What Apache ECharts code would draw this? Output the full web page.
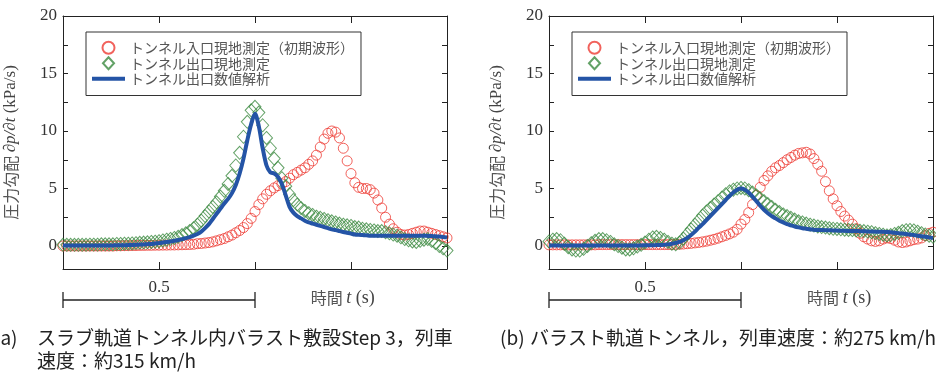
<!DOCTYPE html>
<html>
<head>
<meta charset="utf-8">
<script src="https://cdn.jsdelivr.net/npm/echarts@6/dist/echarts.min.js"></script>
<style>
  html, body { margin: 0; padding: 0; background: #fff; }
  #chart { width: 936px; height: 372px; }
</style>
</head>
<body>
<div id="chart"></div>
<script>
// sample times (s), shared by all series
const time = [
  0.00, 0.01, 0.02, 0.03, 0.04, 0.05, 0.06, 0.07, 0.08, 0.09,
  0.10, 0.11, 0.12, 0.13, 0.14, 0.15, 0.16, 0.17, 0.18, 0.19,
  0.20, 0.21, 0.22, 0.23, 0.24, 0.25, 0.26, 0.27, 0.28, 0.29,
  0.30, 0.31, 0.32, 0.33, 0.34, 0.35, 0.36, 0.37, 0.38, 0.39,
  0.40, 0.41, 0.42, 0.43, 0.44, 0.45, 0.46, 0.47, 0.48, 0.49,
  0.50, 0.51, 0.52, 0.53, 0.54, 0.55, 0.56, 0.57, 0.58, 0.59,
  0.60, 0.61, 0.62, 0.63, 0.64, 0.65, 0.66, 0.67, 0.68, 0.69,
  0.70, 0.71, 0.72, 0.73, 0.74, 0.75, 0.76, 0.77, 0.78, 0.79,
  0.80, 0.81, 0.82, 0.83, 0.84, 0.85, 0.86, 0.87, 0.88, 0.89,
  0.90, 0.91, 0.92, 0.93, 0.94, 0.95, 0.96, 0.97, 0.98, 0.99, 1.00
];

// (a) slab track, Step 3, ~315 km/h
const entranceA = [
  0, 0, 0, 0, 0, 0, 0, 0, 0, 0,
  0, 0, 0, 0, 0.02, 0.02, 0.03, 0.03, 0.04, 0.04,
  0.05, 0.05, 0.06, 0.06, 0.07, 0.07, 0.08, 0.08, 0.09, 0.09,
  0.1, 0.11, 0.12, 0.13, 0.15, 0.2, 0.22, 0.26, 0.3, 0.36,
  0.45, 0.55, 0.65, 0.8, 0.95, 1.15, 1.35, 1.6, 1.95, 2.4,
  3.0, 3.6, 4.1, 4.5, 4.8, 5.05, 5.25, 5.4, 5.6, 5.9,
  6.2, 6.4, 6.6, 6.8, 7.1, 7.4, 7.9, 8.6, 9.3, 9.8,
  10.0, 9.9, 9.4, 8.5, 7.4, 6.3, 5.5, 5.1, 5.0, 5.0,
  4.9, 4.6, 4.0, 3.3, 2.5, 1.9, 1.5, 1.2, 1.0, 0.95,
  1.0, 1.1, 1.2, 1.3, 1.3, 1.2, 1.1, 1.0, 0.9, 0.8, 0.7
];
const exitMeasA = [
  0.1, 0.1, 0.1, 0.1, 0.1, 0.1, 0.1, 0.12, 0.12, 0.12,
  0.15, 0.15, 0.15, 0.15, 0.18, 0.18, 0.2, 0.2, 0.22, 0.25,
  0.28, 0.3, 0.32, 0.35, 0.38, 0.42, 0.48, 0.55, 0.62, 0.7,
  0.8, 0.95, 1.1, 1.3, 1.55, 1.85, 2.2, 2.6, 3.0, 3.4,
  3.8, 4.3, 4.8, 5.4, 6.1, 7.0, 8.1, 9.5, 10.8, 11.8,
  12.1, 11.6, 10.5, 9.4, 8.5, 7.6, 6.8, 5.9, 5.2, 4.5,
  4.0, 3.6, 3.3, 3.05, 2.85, 2.7, 2.55, 2.45, 2.35, 2.25,
  2.15, 2.05, 1.95, 1.85, 1.8, 1.75, 1.65, 1.6, 1.5, 1.45,
  1.4, 1.35, 1.3, 1.3, 1.2, 1.1, 1.0, 0.9, 0.75, 0.6,
  0.5, 0.4, 0.35, 0.45, 0.55, 0.6, 0.45, 0.25, 0.0, -0.2, -0.4
];
const exitCalcA = [
  0.05, 0.05, 0.05, 0.05, 0.05, 0.05, 0.05, 0.05, 0.05, 0.05,
  0.05, 0.05, 0.05, 0.05, 0.06, 0.06, 0.07, 0.08, 0.09, 0.1,
  0.12, 0.14, 0.16, 0.18, 0.22, 0.25, 0.3, 0.35, 0.4, 0.45,
  0.52, 0.6, 0.68, 0.78, 0.9, 1.05, 1.25, 1.55, 1.9, 2.35,
  2.8, 3.25, 3.7, 4.1, 4.6, 5.3, 6.3, 7.6, 9.2, 10.6,
  11.5, 10.4, 8.5, 7.0, 6.4, 6.3, 6.0, 5.4, 4.4, 3.4,
  2.9, 2.6, 2.4, 2.2, 2.05, 1.95, 1.85, 1.75, 1.65, 1.55,
  1.45, 1.38, 1.3, 1.22, 1.15, 1.08, 1.0, 0.97, 0.95, 0.93,
  0.9, 0.9, 0.9, 0.9, 0.9, 0.9, 0.9, 0.9, 0.9, 0.9,
  0.9, 0.9, 0.9, 0.9, 0.9, 0.88, 0.86, 0.84, 0.82, 0.78, 0.75
];

// (b) ballast track, ~275 km/h
const entranceB = [
  0.1, 0.1, 0.1, 0.1, 0.1, 0.1, 0.1, 0.1, 0.1, 0.1,
  0.1, 0.1, 0.1, 0.12, 0.12, 0.12, 0.12, 0.12, 0.12, 0.12,
  0.12, 0.12, 0.12, 0.12, 0.12, 0.12, 0.12, 0.12, 0.12, 0.12,
  0.12, 0.12, 0.13, 0.14, 0.15, 0.17, 0.2, 0.23, 0.27, 0.31,
  0.36, 0.42, 0.5, 0.58, 0.68, 0.8, 0.92, 1.05, 1.2, 1.45,
  1.9, 2.3, 2.9, 3.6, 4.4, 5.1, 5.7, 6.1, 6.5, 6.8,
  7.0, 7.25, 7.5, 7.7, 7.9, 8.05, 8.1, 8.15, 8.0, 7.6,
  7.1, 6.5, 5.6, 4.8, 4.1, 3.5, 3.0, 2.6, 2.25, 1.9,
  1.5, 1.1, 0.8, 0.6, 0.45, 0.4, 0.45, 0.6, 0.7, 0.65,
  0.5, 0.35, 0.3, 0.35, 0.45, 0.55, 0.6, 0.7, 0.9, 1.1, 1.2
];
const exitMeasB = [
  0.4, 0.55, 0.6, 0.5, 0.2, -0.1, -0.3, -0.4, -0.4, -0.25,
  0.0, 0.25, 0.45, 0.6, 0.6, 0.5, 0.35, 0.15, 0.0, -0.15,
  -0.3, -0.3, -0.2, -0.05, 0.1, 0.3, 0.55, 0.75, 0.8, 0.7,
  0.55, 0.35, 0.2, 0.15, 0.3, 0.65, 1.05, 1.45, 1.85, 2.25,
  2.65, 3.0, 3.3, 3.6, 3.9, 4.2, 4.5, 4.75, 4.9, 5.0,
  5.05, 5.0, 4.85, 4.65, 4.4, 4.15, 3.9, 3.65, 3.4, 3.15,
  2.95, 2.75, 2.6, 2.45, 2.3, 2.15, 2.05, 1.95, 1.85, 1.78,
  1.7, 1.65, 1.6, 1.55, 1.5, 1.48, 1.45, 1.42, 1.4, 1.38,
  1.35, 1.32, 1.3, 1.25, 1.2, 1.12, 1.05, 0.98, 0.92, 0.95,
  1.05, 1.15, 1.3, 1.38, 1.4, 1.35, 1.25, 1.12, 1.0, 0.9, 0.8
];
const exitCalcB = [
  0.05, 0.05, 0.05, 0.05, 0.05, 0.05, 0.05, 0.05, 0.05, 0.05,
  0.05, 0.05, 0.05, 0.05, 0.05, 0.05, 0.05, 0.05, 0.05, 0.05,
  0.05, 0.05, 0.05, 0.05, 0.05, 0.06, 0.06, 0.07, 0.08, 0.09,
  0.1, 0.14, 0.2, 0.27, 0.35, 0.5, 0.7, 0.95, 1.25, 1.6,
  1.9, 2.25, 2.6, 2.95, 3.3, 3.65, 4.0, 4.35, 4.65, 4.9,
  5.0, 4.9, 4.65, 4.3, 3.9, 3.5, 3.15, 2.85, 2.6, 2.4,
  2.2, 2.05, 1.9, 1.8, 1.7, 1.62, 1.55, 1.5, 1.45, 1.42,
  1.4, 1.39, 1.38, 1.37, 1.35, 1.34, 1.33, 1.32, 1.31, 1.3,
  1.3, 1.29, 1.28, 1.27, 1.26, 1.25, 1.25, 1.24, 1.22, 1.2,
  1.15, 1.12, 1.08, 1.04, 1.0, 0.95, 0.9, 0.85, 0.8, 0.75, 0.7
];

const yTicks = [0, 2.5, 5, 7.5, 10, 12.5, 15, 17.5, 20];
const yLabels = [0, 5, 10, 15, 20];
const xTicks = [0.25, 0.5, 0.75];
const names = ['トンネル入口現地測定（初期波形）', 'トンネル出口現地測定', 'トンネル出口数値解析'];

const RED = '#ee3b33';
const GREEN = '#3b8a40';
const BLUE = '#2454a6';
const AXIS = '#222';
const SERIF = '"Liberation Serif", "DejaVu Serif", serif';
const CJK = '"Noto Sans CJK JP", sans-serif';

const pairs = vals => time.map((t, i) => [t, vals[i]]);

const chart = echarts.init(document.getElementById('chart'));

const grids = [
  { left: 63, top: 16, width: 384, height: 253 },
  { left: 549, top: 16, width: 384, height: 253 }
];

function xAxes(g) {
  return ['bottom', 'top'].map(pos => ({
    type: 'value', gridIndex: g, position: pos, min: 0, max: 1,
    axisLine: { show: true, onZero: false, lineStyle: { color: AXIS, width: 1 } },
    axisTick: { show: true, inside: true, length: 7, customValues: xTicks, lineStyle: { color: AXIS } },
    axisLabel: { show: false },
    splitLine: { show: false }
  }));
}

function yAxes(g) {
  return ['left', 'right'].map(pos => ({
    type: 'value', gridIndex: g, position: pos, min: -2, max: 20,
    axisLine: { show: true, onZero: false, lineStyle: { color: AXIS, width: 1 } },
    axisTick: { show: true, inside: true, length: 5, customValues: yTicks, lineStyle: { color: AXIS } },
    axisLabel: {
      show: pos === 'left', customValues: yLabels, margin: 6,
      color: '#333', fontFamily: SERIF, fontSize: 17
    },
    splitLine: { show: false },
    name: pos === 'left' ? '{c|圧力勾配 }{i|∂p/∂t}{r| (kPa/s)}' : '',
    nameLocation: 'middle',
    nameGap: 44,
    nameRotate: 90,
    nameTextStyle: {
      color: '#444',
      rich: {
        c: { fontFamily: CJK, fontSize: 16, color: '#555' },
        i: { fontFamily: SERIF, fontSize: 17, fontStyle: 'italic', color: '#444' },
        r: { fontFamily: SERIF, fontSize: 17, color: '#444' }
      }
    }
  }));
}

function seriesFor(g, entrance, exitMeas, exitCalc) {
  const xi = g * 2, yi = g * 2;
  return [
    {
      name: names[0], type: 'scatter', xAxisIndex: xi, yAxisIndex: yi,
      symbol: 'circle', symbolSize: 10, clip: false,
      itemStyle: { color: 'rgba(255,255,255,0)', borderColor: RED, borderWidth: 1 },
      data: pairs(entrance)
    },
    {
      name: names[1], type: 'scatter', xAxisIndex: xi, yAxisIndex: yi,
      symbol: 'diamond', symbolSize: [12, 13], clip: false,
      itemStyle: { color: 'rgba(255,255,255,0)', borderColor: GREEN, borderWidth: 1 },
      data: pairs(exitMeas)
    },
    {
      name: names[2], type: 'line', xAxisIndex: xi, yAxisIndex: yi,
      symbol: 'none', smooth: 0.3, clip: false,
      lineStyle: { color: BLUE, width: 4 },
      itemStyle: { color: BLUE },
      data: pairs(exitCalc)
    }
  ];
}

function legendAt(left) {
  return {
    left: left, top: 32, orient: 'vertical',
    data: [
      { name: names[0], icon: 'circle' },
      { name: names[1], icon: 'path://M6,0 L12,6.5 L6,13 L0,6.5 Z' },
      { name: names[2], icon: 'path://M0,0 L33,0 L33,4 L0,4 Z' }
    ],
    symbolKeepAspect: true,
    itemWidth: 33, itemHeight: 12, itemGap: 0, itemTextGap: 3,
    padding: [8, 7, 9, 6],
    borderColor: '#333', borderWidth: 1, backgroundColor: '#fff',
    selectedMode: false,
    textStyle: { fontFamily: CJK, fontSize: 14, color: '#555', lineHeight: 15.5 }
  };
}

chart.setOption({
  animation: false,
  grid: grids,
  xAxis: [...xAxes(0), ...xAxes(1)],
  yAxis: [...yAxes(0), ...yAxes(1)],
  legend: [legendAt(86), legendAt(572)],
  series: [
    ...seriesFor(0, entranceA, exitMeasA, exitCalcA),
    ...seriesFor(1, entranceB, exitMeasB, exitCalcB)
  ]
});

// scale bar (0 to 0.5 s), axis title and captions under each panel
const barY = 300;
const nameT = [0.645, 0.672];
const captionFont = '19px "Noto Sans CJK JP", sans-serif';
const elements = [];
[0, 1].forEach(g => {
  const x0 = chart.convertToPixel({ xAxisIndex: g * 2 }, 0);
  const x1 = chart.convertToPixel({ xAxisIndex: g * 2 }, 0.5);
  const xn = chart.convertToPixel({ xAxisIndex: g * 2 }, nameT[g]);
  const ls = { stroke: AXIS, lineWidth: 1.3 };
  elements.push(
    { type: 'line', shape: { x1: x0, y1: barY, x2: x1, y2: barY }, style: ls, silent: true },
    { type: 'line', shape: { x1: x0, y1: barY - 8, x2: x0, y2: barY + 8 }, style: ls, silent: true },
    { type: 'line', shape: { x1: x1, y1: barY - 8, x2: x1, y2: barY + 8 }, style: ls, silent: true },
    {
      type: 'text', x: (x0 + x1) / 2, y: 288, silent: true,
      style: { text: '0.5', fill: '#333', font: '17px ' + SERIF, align: 'center', verticalAlign: 'middle' }
    },
    {
      type: 'text', x: xn, y: 298, silent: true,
      style: {
        text: '{c|時間 }{i|t}{r| (s)}', align: 'left', verticalAlign: 'middle',
        rich: {
          c: { fontFamily: CJK, fontSize: 16, fill: '#555' },
          i: { fontFamily: SERIF, fontSize: 18, fontStyle: 'italic', fill: '#444' },
          r: { fontFamily: SERIF, fontSize: 18, fill: '#444' }
        }
      }
    }
  );
});
const captions = [
  { x: -6, y: 338, text: '(a)' },
  { x: 37, y: 338, text: 'スラブ軌道トンネル内バラスト敷設Step 3，列車' },
  { x: 37, y: 361, text: '速度：約315 km/h' },
  { x: 500, y: 338, text: '(b)' },
  { x: 530, y: 338, text: 'バラスト軌道トンネル，列車速度：約275 km/h' }
];
captions.forEach(c => elements.push({
  type: 'text', x: c.x, y: c.y, silent: true,
  style: { text: c.text, fill: '#222', font: captionFont, align: 'left', verticalAlign: 'middle' }
}));
chart.setOption({ graphic: elements });
</script>
</body>
</html>
